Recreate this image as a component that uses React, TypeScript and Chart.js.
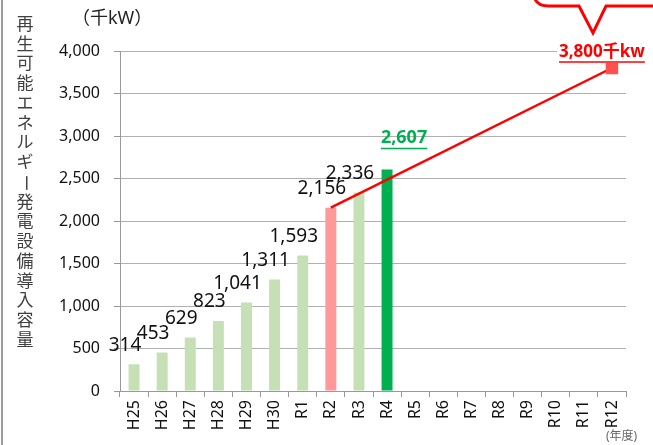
import React, { useEffect, useRef } from "react";
import { Chart, registerables } from "chart.js";

Chart.register(...registerables);

const categories = ["H25", "H26", "H27", "H28", "H29", "H30", "R1", "R2", "R3", "R4", "R5", "R6", "R7", "R8", "R9", "R10", "R11", "R12"];
const installed = [314, 453, 629, 823, 1041, 1311, 1593, 2156, 2336, 2607, null, null, null, null, null, null, null, null];
const targetLine = [null, null, null, null, null, null, null, 2156, null, null, null, null, null, null, null, null, null, 3800];
const yTickValues = [0, 500, 1000, 1500, 2000, 2500, 3000, 3500, 4000];
const yTitle = "再生可能エネルギー発電設備導入容量";
const unitLabel = "（千kW）";
const xUnitLabel = "(年度)";
const targetLabel = "3,800千kw";

const FONT = "'Noto Sans', 'Noto Sans CJK JP', sans-serif";
const fmt = (v: number) => v.toLocaleString("en-US");

const decorPlugin = {
  id: "decor",
  afterDraw(chart: any) {
    const ctx = chart.ctx as CanvasRenderingContext2D;
    ctx.save();
    // left border line
    ctx.strokeStyle = "#9a9a9a";
    ctx.lineWidth = 2;
    ctx.beginPath();
    ctx.moveTo(2, 0);
    ctx.lineTo(2, 445);
    ctx.stroke();

    // vertical y title
    ctx.fillStyle = "#404040";
    ctx.font = `17px ${FONT}`;
    ctx.textAlign = "center";
    ctx.textBaseline = "middle";
    const chars = Array.from(yTitle);
    chars.forEach((c, i) => {
      const cx = 25;
      const cy = 25 + i * 19.75;
      if (c === "ー") {
        ctx.save();
        ctx.translate(cx, cy);
        ctx.rotate(Math.PI / 2);
        ctx.fillText(c, 0, 0);
        ctx.restore();
      } else {
        ctx.fillText(c, cx, cy);
      }
    });

    // unit label
    ctx.fillStyle = "#222";
    ctx.font = `18px ${FONT}`;
    ctx.textAlign = "left";
    ctx.fillText(unitLabel, 72, 19);

    // x unit label
    ctx.fillStyle = "#666";
    ctx.font = `12px ${FONT}`;
    ctx.textAlign = "left";
    ctx.fillText(xUnitLabel, 606, 437);

    // bar labels
    const barMeta = chart.getDatasetMeta(1);
    barMeta.data.forEach((bar: any, i: number) => {
      const v = installed[i];
      if (v == null) return;
      if (i === 9) {
        ctx.fillStyle = "#00b050";
        ctx.font = `bold 18px ${FONT}`;
        ctx.textAlign = "center";
        const tx = bar.x + 17;
        const ty = bar.y - 32;
        const t = fmt(v);
        ctx.fillText(t, tx, ty);
        const w = ctx.measureText(t).width;
        ctx.strokeStyle = "#00b050";
        ctx.lineWidth = 1.5;
        ctx.beginPath();
        ctx.moveTo(tx - w / 2, ty + 11);
        ctx.lineTo(tx + w / 2, ty + 11);
        ctx.stroke();
      } else {
        ctx.fillStyle = "#111";
        ctx.font = `19px ${FONT}`;
        ctx.textAlign = "center";
        ctx.fillText(fmt(v), bar.x - 9, bar.y - 19);
      }
    });

    // target label
    const lineMeta = chart.getDatasetMeta(0);
    const last = lineMeta.data[targetLine.length - 1];
    if (last) {
      ctx.font = `bold 17px ${FONT}`;
      const w = ctx.measureText(targetLabel).width;
      const tx = last.x - 10;
      const ty = last.y - 16;
      ctx.fillStyle = "#fff";
      ctx.fillRect(tx - w / 2 - 2, ty - 11, w + 4, 22);
      ctx.fillStyle = "#ff0000";
      ctx.textAlign = "center";
      ctx.fillText(targetLabel, tx, ty);
      ctx.strokeStyle = "#ff0000";
      ctx.lineWidth = 1.5;
      ctx.beginPath();
      ctx.moveTo(tx - w / 2, ty + 10);
      ctx.lineTo(tx + w / 2, ty + 10);
      ctx.stroke();
    }

    // callout bubble at top right
    ctx.strokeStyle = "#ff0000";
    ctx.lineWidth = 3;
    ctx.lineJoin = "miter";
    ctx.beginPath();
    ctx.moveTo(534, -4);
    ctx.quadraticCurveTo(536, 6, 549, 6);
    ctx.lineTo(579, 6);
    ctx.lineTo(593, 33);
    ctx.lineTo(606, 6);
    ctx.lineTo(660, 6);
    ctx.stroke();
    ctx.restore();
  },
};

export default function App() {
  const ref = useRef<HTMLCanvasElement | null>(null);
  useEffect(() => {
    document.body.style.margin = "0";
    if (!ref.current) return;
    const chart = new Chart(ref.current, {
      type: "bar",
      data: {
        labels: categories,
        datasets: [
          {
            type: "line",
            data: targetLine as any,
            borderColor: "#ff0000",
            borderWidth: 2.5,
            spanGaps: true,
            pointStyle: "rect",
            pointRadius: targetLine.map((v, i) => (i === targetLine.length - 1 ? 7 : 0)),
            pointBackgroundColor: "#ff5050",
            pointBorderColor: "#ff5050",
            order: 0,
          } as any,
          {
            type: "bar",
            data: installed as any,
            backgroundColor: installed.map((v, i) => (i === 7 ? "#ff9999" : i === 9 ? "#00b050" : "#c5e0b4")),
            categoryPercentage: 1,
            barPercentage: 0.39,
            order: 1,
          },
        ],
      },
      options: {
        responsive: false,
        animation: false,
        devicePixelRatio: 1,
        layout: { padding: { left: 0, top: 51, right: 27, bottom: 0 } },
        plugins: { legend: { display: false }, tooltip: { enabled: false } },
        scales: {
          x: {
            grid: { drawOnChartArea: false, drawTicks: true, tickLength: 6, color: "#999" },
            border: { display: true, color: "#999" },
            ticks: {
              maxRotation: 90,
              minRotation: 90,
              padding: 3,
              color: "#111",
              font: { size: 16, family: FONT },
              autoSkip: false,
            },
            afterFit: (s: any) => {
              s.height = 54;
            },
          },
          y: {
            min: 0,
            max: 4000,
            afterBuildTicks: (s: any) => {
              s.ticks = yTickValues.map((v) => ({ value: v }));
            },
            grid: { color: "#b0b0b0", tickLength: 6, tickColor: "#999" },
            border: { display: true, color: "#999" },
            ticks: {
              padding: 14,
              color: "#111",
              font: { size: 16, family: FONT },
              callback: (v: any) => fmt(Number(v)),
            },
            afterFit: (s: any) => {
              s.width = 120;
            },
          },
        },
      },
      plugins: [decorPlugin],
    });
    return () => chart.destroy();
  }, []);
  return (
    <div style={{ width: 653, height: 445 }}>
      <canvas ref={ref} width={653} height={445} />
    </div>
  );
}
